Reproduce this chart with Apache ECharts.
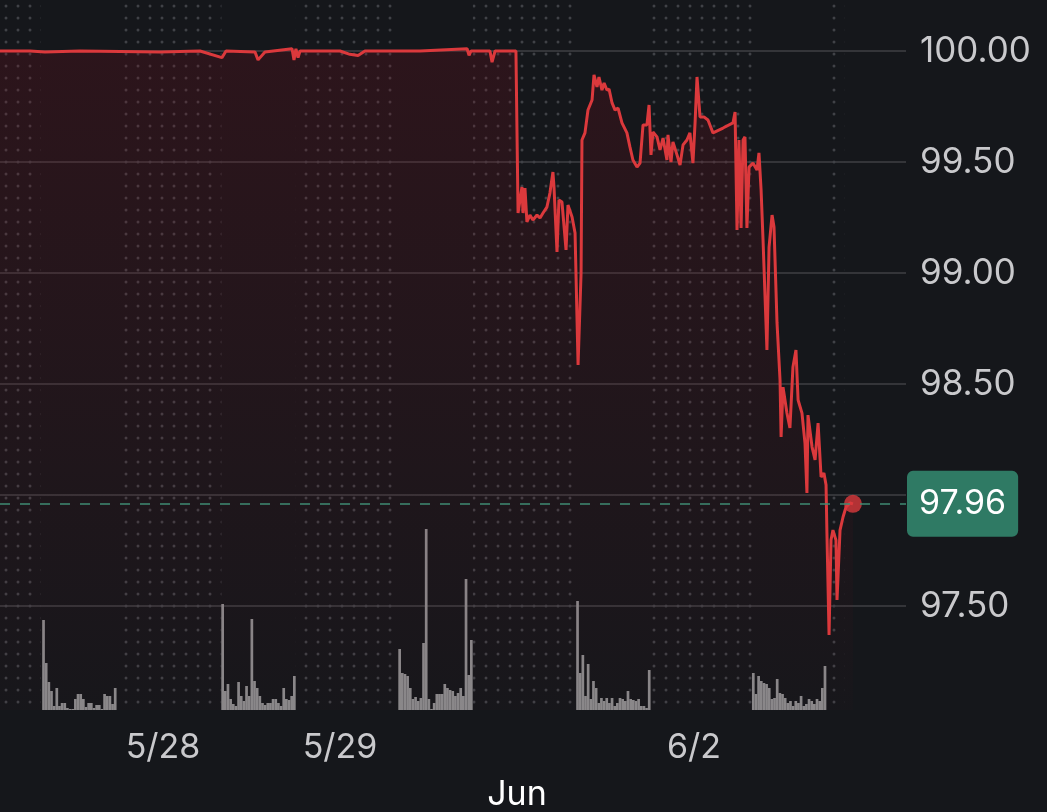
<!DOCTYPE html>
<html>
<head>
<meta charset="utf-8">
<script src="https://cdn.jsdelivr.net/npm/echarts@6/dist/echarts.min.js"></script>
<style>
  html,body{margin:0;padding:0;background:#15171b}
  #chart{width:1047px;height:812px}
</style>
</head>
<body>
<div id="chart"></div>
<script>
// 时间轴单位:交易日(1 = 5/28 零点),周末不占位
const dayLabels = { 1: '5/28', 2: '5/29', 3: 'Jun', 4: '6/2' }
const priceTicks = [97.5, 98.5, 99, 99.5, 100]   // 显示标签的刻度(98.00 被现价框遮住)
const lastPrice = 97.96

const priceTimes = [
  0.079, 0.249, 0.333, 0.531, 0.983, 1.209, 1.333, 1.356, 1.520, 1.537, 1.576,
  1.729, 1.740, 1.751, 1.763, 1.774, 2.000, 2.056, 2.102, 2.141, 2.452, 2.718, 2.729,
  2.740, 2.847, 2.859, 2.876, 2.972, 2.994, 3.006, 3.028, 3.034, 3.045, 3.056, 3.073,
  3.090, 3.113, 3.130, 3.147, 3.169, 3.186, 3.203, 3.209, 3.226, 3.237, 3.254, 3.277,
  3.288, 3.311, 3.328, 3.345, 3.362, 3.367, 3.384, 3.401, 3.424, 3.435, 3.452, 3.463,
  3.480, 3.492, 3.508, 3.520, 3.537, 3.554, 3.571, 3.593, 3.621, 3.638, 3.655, 3.678,
  3.695, 3.712, 3.734, 3.746, 3.757, 3.768, 3.791, 3.808, 3.825, 3.847, 3.853, 3.870,
  3.881, 3.904, 3.921, 3.938, 3.960, 3.977, 3.994, 4.006, 4.017, 4.034, 4.056, 4.079,
  4.107, 4.164, 4.220, 4.232, 4.243, 4.254, 4.266, 4.277, 4.288, 4.299, 4.311, 4.333,
  4.356, 4.367, 4.379, 4.390, 4.412, 4.424, 4.441, 4.452, 4.469, 4.475, 4.486, 4.492,
  4.503, 4.525, 4.542, 4.559, 4.576, 4.588, 4.610, 4.627, 4.638, 4.644, 4.667, 4.684,
  4.701, 4.718, 4.734, 4.746, 4.751, 4.763, 4.774, 4.785, 4.802, 4.808, 4.825, 4.842,
  4.859, 4.881, 4.898
]
const priceValues = [
  100.00, 100.00, 99.995, 100.00, 99.995, 100.00, 99.97, 100.00, 99.995, 99.96, 99.995,
  100.01, 99.96, 100.01, 99.97, 100.00, 100.00, 99.985, 99.98, 100.00, 100.00, 100.01, 99.98,
  100.00, 100.00, 99.95, 100.00, 100.00, 100.00, 99.27, 99.387, 99.27, 99.383, 99.23, 99.261,
  99.239, 99.261, 99.248, 99.27, 99.297, 99.36, 99.455, 99.387, 99.095, 99.329, 99.32, 99.104,
  99.306, 99.252, 99.18, 98.586, 99.00, 99.599, 99.631, 99.734, 99.779, 99.892, 99.838, 99.883,
  99.824, 99.856, 99.824, 99.829, 99.766, 99.734, 99.743, 99.676, 99.631, 99.568, 99.509, 99.477,
  99.495, 99.667, 99.667, 99.757, 99.532, 99.635, 99.613, 99.554, 99.608, 99.509, 99.622, 99.50,
  99.59, 99.532, 99.486, 99.577, 99.599, 99.631, 99.495, 99.676, 99.883, 99.703, 99.703, 99.689,
  99.631, 99.653, 99.676, 99.725, 99.194, 99.599, 99.203, 99.599, 99.613, 99.203, 99.477, 99.495,
  99.464, 99.541, 99.374, 99.149, 98.653, 99.117, 99.261, 99.207, 98.775, 98.685, 98.518, 98.261,
  98.486, 98.369, 98.302, 98.577, 98.653, 98.428, 98.369, 98.234, 98.009, 98.36, 98.216, 98.158,
  98.324, 98.081, 98.099, 98.045, 97.829, 97.369, 97.797, 97.842, 97.797, 97.527, 97.842, 97.901,
  97.946, 97.964, 97.96
]

// 成交量:每个交易时段起点 + 固定间隔的柱
const sessionStarts = [0.325, 1.337, 2.337, 3.342, 4.335]
const volStep = 0.015
const sessionVolumes = [
  [90, 47, 28, 19, 4, 22, 4, 7, 7, 2, 1, 1, 11, 16, 16, 11, 3, 7, 7, 2, 5, 5, 1, 16, 14, 14, 6, 22],
  [106, 19, 26, 11, 6, 4, 28, 14, 9, 24, 14, 91, 29, 22, 14, 7, 5, 7, 7, 11, 11, 7, 4, 22, 11, 10, 14, 34],
  [61, 37, 36, 34, 22, 11, 13, 9, 12, 67, 181, 11, 1, 7, 16, 16, 16, 26, 22, 20, 19, 14, 17, 22, 14, 131, 35, 70],
  [109, 37, 55, 14, 46, 11, 29, 22, 7, 12, 9, 12, 7, 12, 4, 7, 12, 11, 9, 19, 11, 10, 9, 11, 4, 4, 2, 40],
  [37, 16, 34, 29, 27, 26, 22, 11, 12, 31, 17, 16, 12, 7, 9, 4, 9, 7, 14, 4, 6, 11, 9, 6, 11, 9, 22, 44]
]
// 非交易时段(点阵背景)
const offHours = [[0.079, 0.31], [0.75, 1.33], [1.75, 2.33], [2.75, 3.33], [3.75, 4.33], [4.755, 4.85]]

// 视窗范围(左边缘 ~5/27 02:00,右边缘留白)
const xMin = 0.0791, xMax = 5.1977
const yMin = 97.0315, yMax = 100.2297

const RED = '#db393c', GRID = '#3f4145', TXT = '#c9c9cc'
const FONT = 'Inter, Roboto, sans-serif'

function dotPattern(){
  const c = document.createElement('canvas'); c.width = 12; c.height = 12
  const g = c.getContext('2d')
  g.fillStyle = '#404247'
  g.beginPath(); g.arc(6, 6, 1.5, 0, Math.PI*2); g.fill()
  return c
}

const priceData = priceTimes.map((t,i)=>[t, priceValues[i]])
const volData = []
sessionVolumes.forEach((arr,s)=>arr.forEach((v,i)=>volData.push([sessionStarts[s] + i*volStep, v])))

const chart = echarts.init(document.getElementById('chart'))
chart.setOption({
  backgroundColor: '#15171b',
  animation: false,
  grid: [
    { left: 0, right: 141, top: 0, bottom: 102, containLabel: false, outerBoundsMode: 'none' },
    { left: 0, right: 141, top: 520, bottom: 102, containLabel: false, outerBoundsMode: 'none' }
  ],
  xAxis: [
    { type: 'value', gridIndex: 0, min: xMin, max: xMax, minInterval: 1, maxInterval: 1,
      axisLine: {show:false}, axisTick: {show:false}, splitLine: {show:false},
      axisLabel: { margin: 14, fontSize: 34, color: TXT, fontFamily: FONT, lineHeight: 47,
        showMinLabel: false, showMaxLabel: false,
        formatter: v => v === 3 ? '\n{j|Jun}' : (dayLabels[v] || ''),
        rich: { j: { color: '#ffffff', fontSize: 34, lineHeight: 47, fontFamily: FONT } } } },
    { type: 'value', gridIndex: 1, min: xMin, max: xMax, show: false }
  ],
  yAxis: [
    { type: 'value', gridIndex: 0, position: 'right', min: yMin, max: yMax, minInterval: 0.5, maxInterval: 0.5,
      axisLine: {show:false}, axisTick: {show:false},
      splitLine: { showMinLine: false, showMaxLine: false, lineStyle: { width: 1.5, color: GRID } },
      axisLabel: { margin: 14, fontSize: 35, color: TXT, fontFamily: FONT,
        showMinLabel: false, showMaxLabel: false,
        formatter: v => priceTicks.includes(v) ? v.toFixed(2) : '' } },
    { type: 'value', gridIndex: 1, min: 0, max: 190, show: false }
  ],
  series: [
    { type: 'bar', xAxisIndex: 1, yAxisIndex: 1, data: volData, barWidth: 2.7,
      itemStyle: { color: '#8a8a8c' }, z: 1 },
    { type: 'line', xAxisIndex: 0, yAxisIndex: 0, data: priceData, showSymbol: false, z: 3,
      lineStyle: { color: RED, width: 3 },
      areaStyle: { color: { type: 'linear', x: 0, y: 0, x2: 0, y2: 1, colorStops: [
        { offset: 0, color: 'rgba(125,12,28,0.32)' },
        { offset: 1, color: 'rgba(125,12,28,0.03)' } ] } },
      markArea: { silent: true, itemStyle: { color: { image: dotPattern(), repeat: 'repeat' } },
        data: offHours.map(([a,b])=>[{ xAxis: a }, { xAxis: b }]) },
      markLine: { silent: true, symbol: 'none',
        lineStyle: { color: '#3f8a73', width: 1.5, type: [10, 10] },
        label: { position: 'end', distance: 1, formatter: lastPrice.toFixed(2),
          color: '#ffffff', fontSize: 34, fontFamily: FONT,
          backgroundColor: '#2f7a64', borderRadius: 6, padding: [16, 12, 16, 12] },
        data: [{ yAxis: lastPrice }] } },
    { type: 'scatter', xAxisIndex: 0, yAxisIndex: 0, z: 4, symbolSize: 18,
      itemStyle: { color: RED }, data: [priceData[priceData.length-1]] }
  ]
})
</script>
</body>
</html>
